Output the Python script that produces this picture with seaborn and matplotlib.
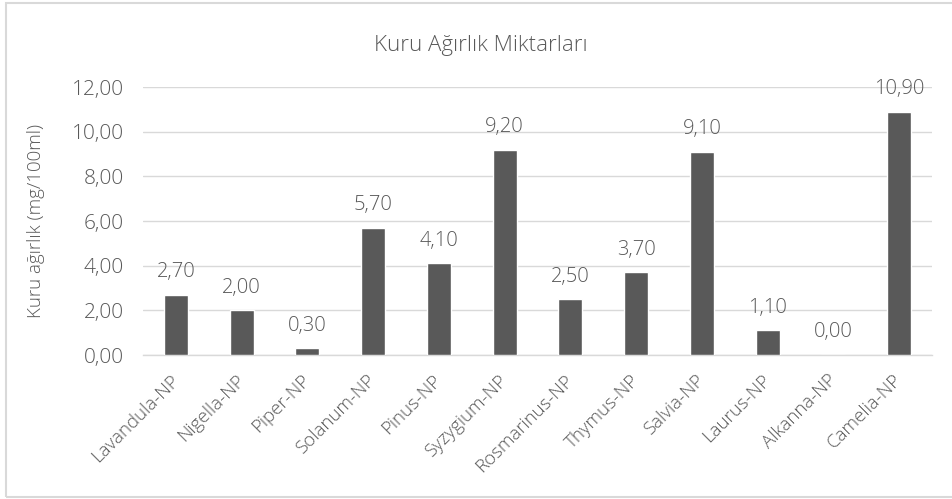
import matplotlib
matplotlib.use("Agg")
import matplotlib.pyplot as plt
import seaborn as sns
from matplotlib.patches import Rectangle
from matplotlib.ticker import FuncFormatter

bitkiler = ["Lavandula-NP", "Nigella-NP", "Piper-NP", "Solanum-NP", "Pinus-NP",
            "Syzygium-NP", "Rosmarinus-NP", "Thymus-NP", "Salvia-NP", "Laurus-NP",
            "Alkanna-NP", "Camelia-NP"]
kuru_agirlik = [2.70, 2.00, 0.30, 5.70, 4.10, 9.20, 2.50, 3.70, 9.10, 1.10, 0.00, 10.90]
y_ticks = [0, 2, 4, 6, 8, 10, 12]

GRI = "#595959"
CIZGI = "#d9d9d9"

sns.set_style("white")
plt.rcParams['font.family'] = ['Open Sans', 'DejaVu Sans']
plt.rcParams['text.color'] = GRI

fig = plt.figure(figsize=(9.52, 4.99), dpi=100)
ax = fig.add_axes([143 / 952, 1 - 355 / 499, (932 - 143) / 952, (355 - 87) / 499])

sns.barplot(x=bitkiler, y=kuru_agirlik, color=GRI, width=0.365, saturation=1, ax=ax, zorder=3)

virgul = lambda v: f"{v:.2f}".replace(".", ",")
ax.bar_label(ax.containers[0], labels=[virgul(v) for v in kuru_agirlik],
             padding=9, fontsize=14.5, color=GRI, fontweight="light")

ax.set_ylim(0, 12)
ax.set_yticks(y_ticks)
ax.yaxis.set_major_formatter(FuncFormatter(lambda v, p: virgul(v)))
ax.grid(axis="y", color=CIZGI, linewidth=1.0, zorder=0)
ax.set_axisbelow(True)
for s in ["top", "right", "left"]:
    ax.spines[s].set_visible(False)
ax.spines["bottom"].set_color(CIZGI)
ax.spines["bottom"].set_linewidth(1.0)
ax.tick_params(axis="both", length=0, colors=GRI)
ax.tick_params(axis="y", labelsize=15, pad=14)
ax.tick_params(axis="x", labelsize=13.5, pad=16)
plt.setp(ax.get_xticklabels(), rotation=45, ha="right", va="center",
         rotation_mode="anchor", fontweight="light")
plt.setp(ax.get_yticklabels(), fontweight="light")

ax.set_ylabel("Kuru ağırlık (mg/100ml)", fontsize=13.5, color=GRI, fontweight="light")
ax.yaxis.set_label_coords((45 - 143) / 789, 0.5)
ax.set_xlabel("")
fig.text(0.505, 1 - 45 / 499, "Kuru Ağırlık Miktarları", ha="center", va="center",
         fontsize=16, color=GRI, fontweight="light")

fig.patches.append(Rectangle((6 / 952, 2 / 499), 1.0, 1 - 5 / 499, transform=fig.transFigure,
                             fill=False, edgecolor=CIZGI, linewidth=1.5))

fig.savefig("out.png", dpi=100)
